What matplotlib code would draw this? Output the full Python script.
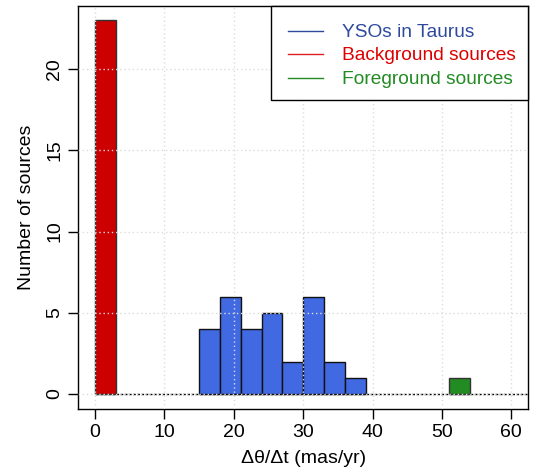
import matplotlib
matplotlib.use("Agg")
import matplotlib.pyplot as plt
from matplotlib.patches import Rectangle

plt.rcParams['font.family'] = ['Liberation Sans', 'DejaVu Sans']

# --- data (bin width 3 mas/yr) ---
yso_edges = [15, 18, 21, 24, 27, 30, 33, 36]
yso_counts = [4, 6, 4, 5, 2, 6, 2, 1]
bg_edges = [0]
bg_counts = [23]
fg_edges = [51]
fg_counts = [1]
bin_width = 3

x_ticks = [0, 10, 20, 30, 40, 50, 60]
y_ticks = [0, 5, 10, 15, 20]
legend_labels = ["YSOs in Taurus", "Background sources", "Foreground sources"]

W, H = 533, 470
fig = plt.figure(figsize=(W / 100, H / 100), dpi=100)
ax = fig.add_axes([78.3 / W, 1 - 409 / H, (528 - 78.3) / W, (409 - 5.5) / H])

ax.bar(bg_edges, bg_counts, width=bin_width, align='edge',
       color='#CC0000', edgecolor='#333333', linewidth=1, zorder=2)
ax.bar(yso_edges, yso_counts, width=bin_width, align='edge',
       color='#4169E1', edgecolor='#111111', linewidth=1, zorder=2)
ax.bar(fg_edges, fg_counts, width=bin_width, align='edge',
       color='#228B22', edgecolor='#333333', linewidth=1, zorder=2)

# empty bins baseline
ax.plot([0, 63], [0, 0], color='black', linewidth=1, linestyle=(0, (2, 1)), zorder=1.5)

ax.set_xlim(-2.4, 62.4)
ax.set_ylim(-0.92, 23.92)
ax.set_xticks(x_ticks)
ax.set_yticks(y_ticks)
ax.tick_params(labelsize=14, length=7, width=1, direction='out', pad=4)
for lab in ax.get_yticklabels():
    lab.set_rotation(90)
    lab.set_va('center')

ax.grid(True, color='#dcdcdc', linestyle=(0, (1, 2)), linewidth=1, zorder=3)
ax.set_axisbelow(False)
for s in ax.spines.values():
    s.set_linewidth(1)

ax.set_xlabel('Δθ/Δt (mas/yr)', fontsize=14, labelpad=6)
ax.set_ylabel('Number of sources', fontsize=14, labelpad=8)

# --- legend drawn by hand (R style box in the top right corner) ---
line_cols = ['#2E4A9E', '#E02020', '#228B22']
text_cols = ['#2E4A9E', '#DD0000', '#228B22']
tf = fig.transFigure
box = Rectangle((271 / W, 1 - 100 / H), (528 - 271) / W, (100 - 5.5) / H,
                transform=tf, facecolor='white', edgecolor='black',
                linewidth=1, zorder=5, clip_on=False)
fig.add_artist(box)
row_y = [32.5, 56.0, 79.5]
for yy, lab, lc, tc in zip(row_y, legend_labels, line_cols, text_cols):
    fig.add_artist(plt.Line2D([288 / W, 323 / W], [1 - (yy - 2) / H, 1 - (yy - 2) / H],
                              color=lc, linewidth=1, transform=tf, zorder=6))
    fig.text(342 / W, 1 - yy / H, lab, color=tc, fontsize=13.8,
             va='center', ha='left', zorder=6)

fig.savefig('out.png', dpi=100)
